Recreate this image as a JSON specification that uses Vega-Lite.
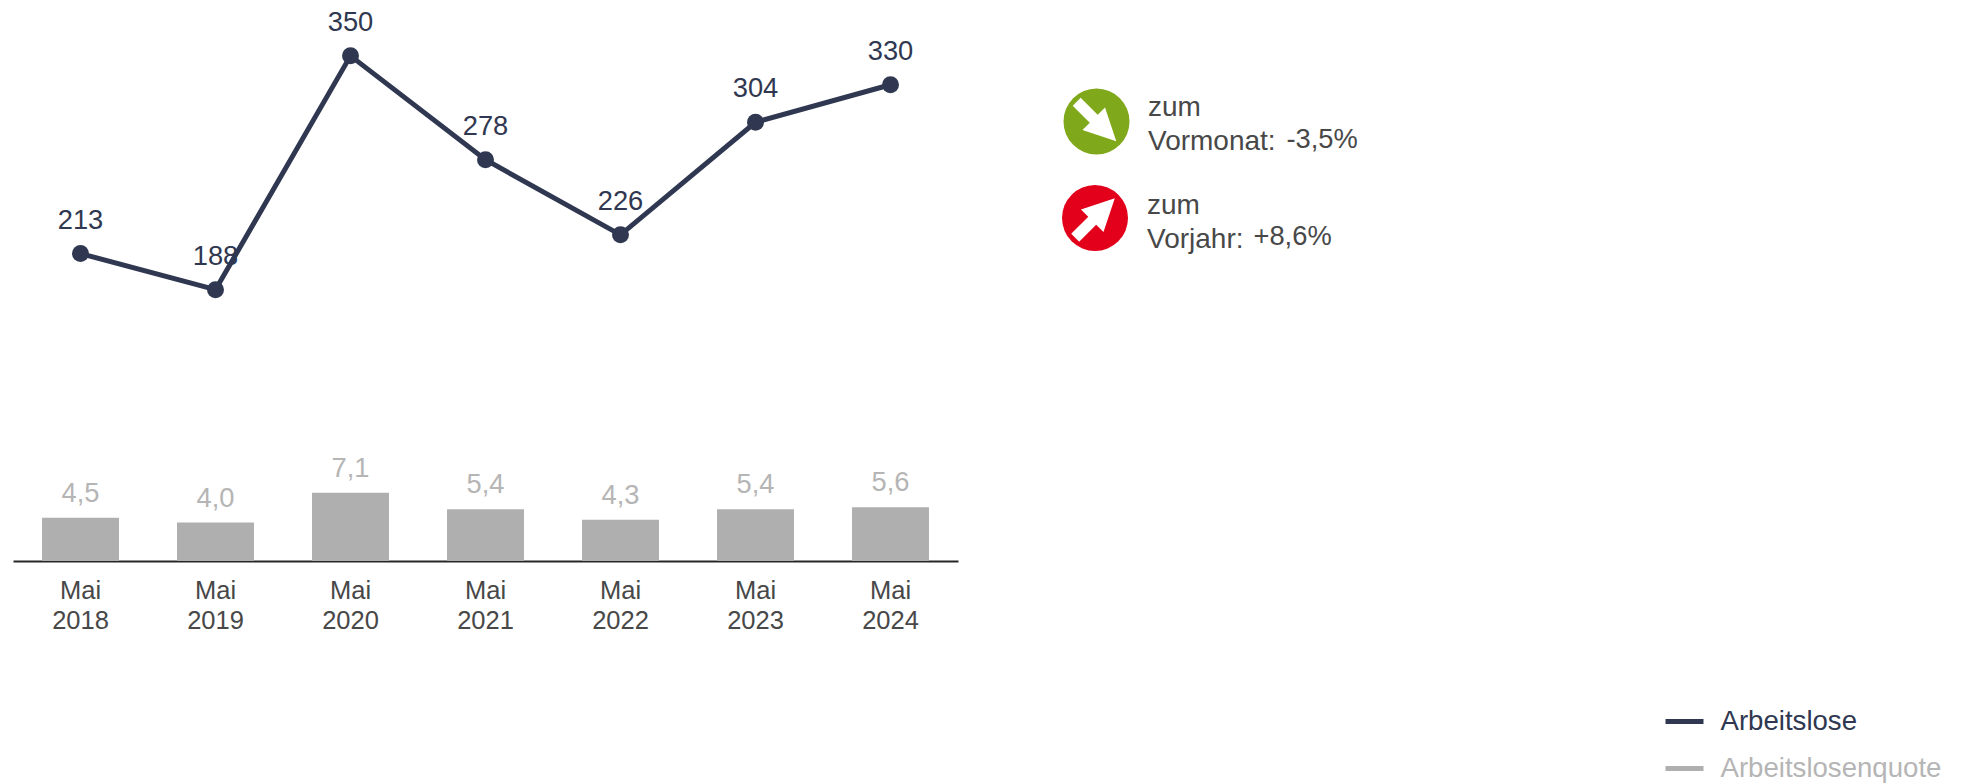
{
"$schema":"https://vega.github.io/schema/vega-lite/v6.json",
"width":945,"height":561,
"autosize":{"type":"none"},
"padding":{"left":13,"top":0,"right":1003,"bottom":223},
"background":"white",
"config":{"view":{"stroke":null},"font":"Liberation Sans","locale":{"number":{"decimal":",","thousands":".","grouping":[3],"currency":["","€"]}}},
"datasets":{
"monate":[
{"monat":"Mai 2018","arbeitslose":213,"quote":4.5},
{"monat":"Mai 2019","arbeitslose":188,"quote":4.0},
{"monat":"Mai 2020","arbeitslose":350,"quote":7.1},
{"monat":"Mai 2021","arbeitslose":278,"quote":5.4},
{"monat":"Mai 2022","arbeitslose":226,"quote":4.3},
{"monat":"Mai 2023","arbeitslose":304,"quote":5.4},
{"monat":"Mai 2024","arbeitslose":330,"quote":5.6}],
"veraenderung":[
{"vergleich":"Vormonat","text":"zum\nVormonat:","wert":"-3,5%"},
{"vergleich":"Vorjahr","text":"zum\nVorjahr:","wert":"+8,6%"}]
},
"resolve":{"scale":{"x":"independent","y":"independent"}},
"layer":[
{"data":{"name":"monate"},
 "encoding":{
  "x":{"field":"monat","type":"nominal","sort":null,"title":null,"scale":{"type":"band","paddingInner":0.43,"paddingOuter":0.215},
   "axis":{"labelAngle":0,"labelExpr":"split(datum.label,' ')","labelFontSize":25.5,"labelColor":"#484848","labelLineHeight":30,"labelPadding":17,"labelLimit":300,"ticks":false,"grid":false,"domainColor":"#262626","domainWidth":2}},
  "y":{"field":"quote","type":"quantitative","scale":{"domain":[0,58.4]},"axis":null}},
 "layer":[
  {"mark":{"type":"bar"},"encoding":{"fill":{"datum":"Arbeitslosenquote","scale":{"domain":["Arbeitslosenquote"],"range":["#afafaf"]},"legend":null}}},
  {"mark":{"type":"text","fontSize":27.3,"color":"#b5b5b5","dy":-24,"baseline":"middle"},"encoding":{"text":{"field":"quote","type":"quantitative","format":".1f"}}}
 ]},
{"data":{"name":"monate"},
 "encoding":{
  "x":{"field":"monat","type":"nominal","sort":null,"title":null,"axis":null,"scale":{"type":"point","padding":0.5}},
  "y":{"field":"arbeitslose","type":"quantitative","scale":{"domain":[0,388.7]},"axis":null}},
 "layer":[
  {"mark":{"type":"text","fontSize":27.3,"color":"#2f3850","dy":-33,"baseline":"middle"},"encoding":{"text":{"field":"arbeitslose","type":"quantitative"}}},
  {"mark":{"type":"line","strokeWidth":5},
   "encoding":{"stroke":{"datum":"Arbeitslose","scale":{"domain":["Arbeitslose","Arbeitslosenquote"],"range":["#2f3850","#afafaf"]},
    "legend":{"title":null,"orient":"none","legendX":1650,"legendY":700,"symbolType":"stroke","symbolSize":1444,"symbolStrokeWidth":5,"labelFontSize":27.6,"labelOffset":14.5,"rowPadding":11,"labelLimit":400,"labelColor":{"expr":"datum.label=='Arbeitslose'?'#2f3850':'#b5b5b5'"}}}}},
  {"mark":{"type":"point","filled":true,"size":289,"shape":"circle","color":"#2f3850","opacity":1}}
 ]},
{"data":{"name":"veraenderung"},
 "encoding":{
  "x":{"field":"vergleich","type":"nominal","sort":null,"axis":null,"scale":{"type":"point","padding":0,"domain":["Vormonat","Vorjahr"],"range":[1083.5,1082]}},
  "y":{"field":"vergleich","type":"nominal","sort":null,"axis":null,"scale":{"type":"point","padding":0,"domain":["Vormonat","Vorjahr"],"range":[121.5,218]}}},
 "layer":[
  {"mark":{"type":"point","filled":true,"size":4356,"shape":"circle","opacity":1},
   "encoding":{"color":{"field":"vergleich","type":"nominal","scale":{"domain":["Vormonat","Vorjahr"],"range":["#80a81b","#e2001a"]},"legend":null}}},
  {"mark":{"type":"point","filled":true,"size":3136,"color":"white","opacity":1,"shape":"M0,-1L0.57,0.14L0.2,0.14L0.2,1L-0.2,1L-0.2,0.14L-0.57,0.14Z"},
   "encoding":{"angle":{"field":"vergleich","type":"nominal","scale":{"domain":["Vormonat","Vorjahr"],"range":[135,45]},"legend":null}}}
 ]},
{"data":{"name":"veraenderung"},
 "mark":{"type":"text","fontSize":28,"color":"#484848","align":"left","baseline":"middle","lineBreak":"\n","lineHeight":34},
 "encoding":{
  "x":{"field":"vergleich","type":"nominal","sort":null,"axis":null,"scale":{"type":"point","padding":0,"domain":["Vormonat","Vorjahr"],"range":[1135,1134]}},
  "y":{"field":"vergleich","type":"nominal","sort":null,"axis":null,"scale":{"type":"point","padding":0,"domain":["Vormonat","Vorjahr"],"range":[108,205.5]}},
  "text":{"field":"text","type":"nominal"}}},
{"data":{"name":"veraenderung"},
 "mark":{"type":"text","fontSize":27.3,"color":"#484848","align":"left","baseline":"middle"},
 "encoding":{
  "x":{"field":"vergleich","type":"nominal","sort":null,"axis":null,"scale":{"type":"point","padding":0,"domain":["Vormonat","Vorjahr"],"range":[1273.5,1240.5]}},
  "y":{"field":"vergleich","type":"nominal","sort":null,"axis":null,"scale":{"type":"point","padding":0,"domain":["Vormonat","Vorjahr"],"range":[140,236.5]}},
  "text":{"field":"wert","type":"nominal"}}}
]
}
